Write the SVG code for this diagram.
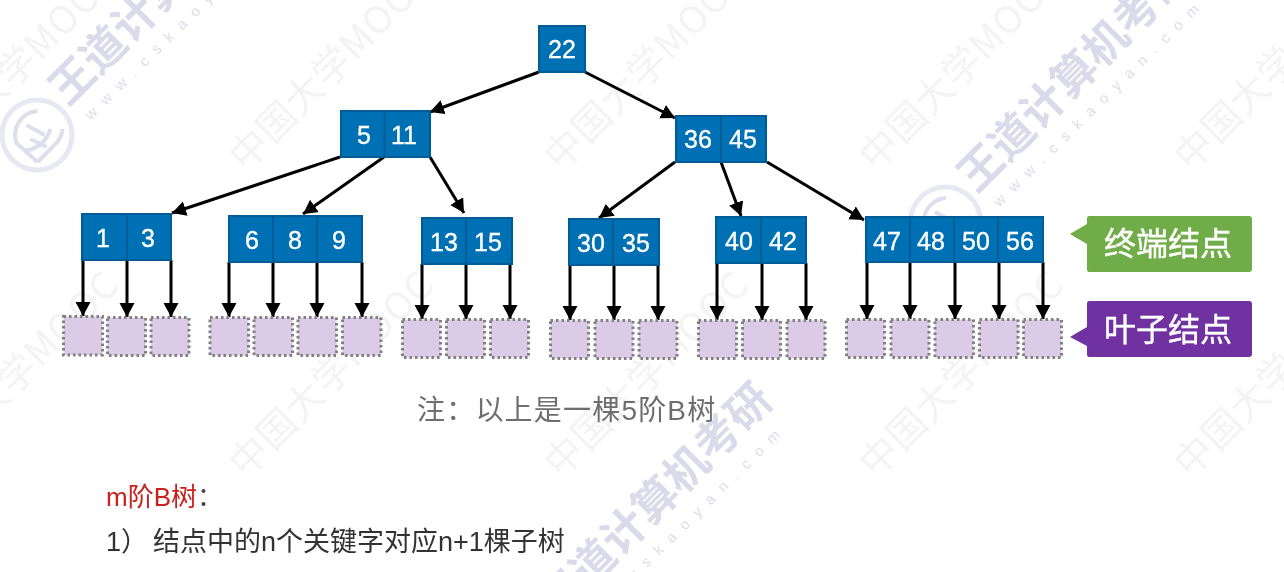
<svg xmlns="http://www.w3.org/2000/svg" width="1284" height="572" viewBox="0 0 1284 572">
<style>
text{font-family:"Liberation Sans","Noto Sans CJK SC",sans-serif}
.cjk{font-family:"Noto Sans CJK SC","Liberation Sans",sans-serif}
.box{fill:#0070b5;stroke:#005b96;stroke-width:2}
.div{stroke:#005b96;stroke-width:2}
.num{fill:#fff;stroke:#fff;stroke-width:.35;font-size:25px;text-anchor:middle}
.leaf{fill:#dccbe6;stroke:#808080;stroke-width:3;stroke-dasharray:2.5 3}
.con{fill:none;stroke:#000;stroke-width:3;marker-end:url(#arr)}
.wm{fill:#f3f3f3;font-size:38px;letter-spacing:1px}
.wd{fill:#dadaea;font-size:44px;font-weight:700}
.url{fill:#dcdcea;font-size:15px;letter-spacing:10px}
.tag{fill:#fff;stroke:#fff;stroke-width:.4;font-size:32px;text-anchor:middle}
</style>
<defs>
<filter id="soft" x="0" y="0" width="100%" height="100%"><feGaussianBlur stdDeviation="0.4"/></filter>
<marker id="arr" markerUnits="userSpaceOnUse" markerWidth="16" markerHeight="16" refX="14" refY="7.500" orient="auto"><path d="M0 0L14 7.500L0 15Z" fill="#000"/></marker>
<g id="mooc"><text class="wm cjk" transform="rotate(-45)">中国大学MOOC</text></g>
<g id="brand">
<circle cx="-31.500" cy="30" r="35" fill="none" stroke="#e8e8f3" stroke-width="5"/>
<path d="M-31 57L-52 38A24 24 0 0 1-31 6M-31 57L-12 38A24 24 0 0 0-6 24" fill="none" stroke="#dedeec" stroke-width="4"/>
<path d="M-42 20L-24 30M-38 34L-22 42M-45 46C-30 44-22 36-18 24" fill="none" stroke="#dedeec" stroke-width="4"/>
<text class="wd cjk" x="-0.700" y="2" transform="rotate(-45 -0.700 2)">王道计算机考研</text>
<text class="url" transform="translate(22.300,15.700) rotate(-44.500)">www.cskaoyan.com</text>
</g>
</defs>
<rect width="1284" height="572" fill="#fff"/>
<g filter="url(#soft)">
<g id="watermark">
<use href="#mooc" x="-70" y="172"/><use href="#mooc" x="245" y="172"/><use href="#mooc" x="560" y="172"/><use href="#mooc" x="875" y="172"/><use href="#mooc" x="1190" y="172"/>
<use href="#mooc" x="-70" y="479"/><use href="#mooc" x="245" y="479"/><use href="#mooc" x="560" y="479"/><use href="#mooc" x="875" y="479"/><use href="#mooc" x="1190" y="479"/>
<use href="#brand" x="68.500" y="105"/><use href="#brand" x="977" y="192"/><use href="#brand" x="558" y="618"/>
</g>
<g id="connectors">
<path class="con" d="M539 72L430 112"/><path class="con" d="M585 72L675 118"/>
<path class="con" d="M340 157L172 213"/><path class="con" d="M384 157L303 214"/><path class="con" d="M430 157L464 213"/>
<path class="con" d="M675 162L599 218"/><path class="con" d="M721 162L741 216"/><path class="con" d="M767 162L864 220"/>
<path class="con" d="M83 260V316"/><path class="con" d="M127 260V317"/><path class="con" d="M171 260V317"/>
<path class="con" d="M229 262V317"/><path class="con" d="M273 262V317"/><path class="con" d="M317 262V317"/><path class="con" d="M362 262V317"/>
<path class="con" d="M422 264V319"/><path class="con" d="M466 264V319"/><path class="con" d="M510 264V319"/>
<path class="con" d="M570 265V320"/><path class="con" d="M614 265V320"/><path class="con" d="M658 265V320"/>
<path class="con" d="M717 263V320"/><path class="con" d="M762 263V320"/><path class="con" d="M806 263V320"/>
<path class="con" d="M867 262V319"/><path class="con" d="M910 262V319"/><path class="con" d="M955 262V319"/><path class="con" d="M999 262V319"/><path class="con" d="M1043 262V319"/>
</g>
<g id="n22"><rect class="box" x="539" y="26" width="46" height="46"/><text class="num" x="562" y="58">22</text></g>
<g id="n5-11"><rect class="box" x="341" y="111" width="89" height="46"/><path class="div" d="M384.500 111V157"/><text class="num" x="364" y="144">5</text><text class="num" x="404" y="144">11</text></g>
<g id="n36-45"><rect class="box" x="676" y="116" width="90" height="46"/><path class="div" d="M721 116V162"/><text class="num" x="698" y="148">36</text><text class="num" x="743" y="148">45</text></g>
<g id="n1-3"><rect class="box" x="82" y="214" width="89" height="46"/><path class="div" d="M127 214V260"/><text class="num" x="103" y="247">1</text><text class="num" x="148" y="247">3</text></g>
<g id="n6-8-9"><rect class="box" x="229" y="216" width="133" height="46"/><path class="div" d="M273 216V262M317 216V262"/><text class="num" x="252" y="249">6</text><text class="num" x="295" y="249">8</text><text class="num" x="339" y="249">9</text></g>
<g id="n13-15"><rect class="box" x="422" y="218" width="90" height="46"/><path class="div" d="M466 218V264"/><text class="num" x="444" y="251">13</text><text class="num" x="488" y="251">15</text></g>
<g id="n30-35"><rect class="box" x="569" y="219" width="90" height="46"/><path class="div" d="M613 219V265"/><text class="num" x="591" y="252">30</text><text class="num" x="636" y="252">35</text></g>
<g id="n40-42"><rect class="box" x="716" y="217" width="90" height="46"/><path class="div" d="M761 217V263"/><text class="num" x="739" y="250">40</text><text class="num" x="783" y="250">42</text></g>
<g id="n47-56"><rect class="box" x="866" y="217" width="177" height="45"/><path class="div" d="M910 217V262M954 217V262M998 217V262"/><text class="num" x="887" y="250">47</text><text class="num" x="931" y="250">48</text><text class="num" x="976" y="250">50</text><text class="num" x="1020" y="250">56</text></g>
<g id="leaves">
<rect class="leaf" x="63.500" y="316.500" width="39" height="38.500"/><rect class="leaf" x="107.500" y="317.500" width="38" height="38"/><rect class="leaf" x="151" y="317.500" width="38" height="38"/>
<rect class="leaf" x="210" y="317.500" width="38.500" height="38"/><rect class="leaf" x="254" y="317.500" width="38.500" height="38"/><rect class="leaf" x="298" y="317.500" width="38.500" height="38"/><rect class="leaf" x="342.500" y="317.500" width="38.500" height="38"/>
<rect class="leaf" x="402.500" y="319.500" width="38" height="38"/><rect class="leaf" x="446.500" y="319.500" width="38" height="38"/><rect class="leaf" x="490.500" y="319.500" width="38" height="38"/>
<rect class="leaf" x="550.500" y="320.500" width="38" height="38"/><rect class="leaf" x="595" y="320.500" width="38" height="38"/><rect class="leaf" x="639" y="320.500" width="38" height="38"/>
<rect class="leaf" x="698.500" y="320.500" width="38" height="38"/><rect class="leaf" x="742.500" y="320.500" width="38" height="38"/><rect class="leaf" x="787" y="320.500" width="38" height="38"/>
<rect class="leaf" x="846.500" y="319.500" width="38" height="38"/><rect class="leaf" x="891" y="319.500" width="38" height="38"/><rect class="leaf" x="935" y="319.500" width="38.500" height="38"/><rect class="leaf" x="979.500" y="319.500" width="38.500" height="38"/><rect class="leaf" x="1023.500" y="319.500" width="38" height="38"/>
</g>
<g id="tag-terminal"><path d="M1089 216H1249Q1252 216 1252 219V269Q1252 272 1249 272H1089Q1087 272 1087 269V244L1070 234L1087 224V219Q1087 216 1089 216Z" fill="#6fac46"/><text class="tag cjk" x="1168" y="255">终端结点</text></g>
<g id="tag-leaf"><path d="M1089 301H1249Q1252 301 1252 304V354Q1252 357 1249 357H1089Q1087 357 1087 354V346L1070 337L1087 327V304Q1087 301 1089 301Z" fill="#7030a0"/><text class="tag cjk" x="1168" y="341">叶子结点</text></g>
<g id="notes">
<text x="417" y="420" font-size="28" letter-spacing="1.200" fill="#6e6e6e">注：以上是一棵5阶B树</text>
<text x="106" y="506" font-size="26" fill="#c9211e">m阶B树<tspan fill="#444">：</tspan></text>
<text y="551" font-size="27" fill="#333"><tspan x="106">1）</tspan><tspan x="153">结点中的n个关键字对应n+1棵子树</tspan></text>
</g>
</g>
</svg>
